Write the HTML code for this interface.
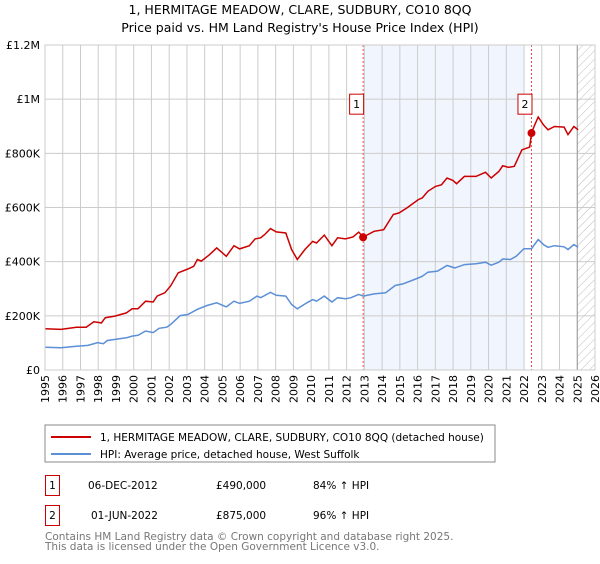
<!DOCTYPE html>
<html><head><meta charset="utf-8"><style>
body{margin:0;background:#fff;font-family:"DejaVu Sans","Liberation Sans",sans-serif;}
svg text{font-family:"DejaVu Sans","Liberation Sans",sans-serif;}
</style></head><body>
<svg id="chart" width="600" height="560" viewBox="0 0 600 560">
<defs><pattern id="hatch" width="6" height="6" patternUnits="userSpaceOnUse" patternTransform="rotate(45)"><line x1="0" y1="0" x2="0" y2="6" stroke="#bbb" stroke-width="1"/></pattern></defs>
<text x="300" y="14" text-anchor="middle" font-size="12.5" fill="#000">1, HERMITAGE MEADOW, CLARE, SUDBURY, CO10 8QQ</text>
<text x="300" y="32" text-anchor="middle" font-size="12.5" fill="#000">Price paid vs. HM Land Registry's House Price Index (HPI)</text>
<g id="plot"></g>
<rect x="45" y="425" width="450" height="37" fill="#fff" stroke="#888"/>
<line x1="51" y1="437" x2="91" y2="437" stroke="#cc0000" stroke-width="2"/>
<text x="100" y="441" font-size="10.5">1, HERMITAGE MEADOW, CLARE, SUDBURY, CO10 8QQ (detached house)</text>
<line x1="51" y1="454" x2="91" y2="454" stroke="#5b8fd6" stroke-width="2"/>
<text x="100" y="458" font-size="10.5">HPI: Average price, detached house, West Suffolk</text>
<rect x="45.5" y="475.5" width="14" height="20" fill="#fff" stroke="#cc0000"/>
<text x="52.5" y="489" font-size="10.5" text-anchor="middle">1</text>
<text x="88" y="489" font-size="10.5">06-DEC-2012</text>
<text x="216" y="489" font-size="10.5">£490,000</text>
<text x="313" y="489" font-size="10.5">84% ↑ HPI</text>
<rect x="45.5" y="505.5" width="14" height="20" fill="#fff" stroke="#cc0000"/>
<text x="52.5" y="519" font-size="10.5" text-anchor="middle">2</text>
<text x="91" y="519" font-size="10.5">01-JUN-2022</text>
<text x="216" y="519" font-size="10.5">£875,000</text>
<text x="313" y="519" font-size="10.5">96% ↑ HPI</text>
<text x="45" y="540" font-size="10.5" fill="#777">Contains HM Land Registry data © Crown copyright and database right 2025.</text>
<text x="45" y="550" font-size="10.5" fill="#777">This data is licensed under the Open Government Licence v3.0.</text>
</svg>
<script>
const redYears=[1995.0,1995.91,1996.77,1997.32,1997.75,1998.18,1998.40,1998.94,1999.59,1999.91,2000.24,2000.67,2001.10,2001.32,2001.75,2002.08,2002.51,2003.05,2003.38,2003.59,2003.81,2004.24,2004.68,2005.22,2005.65,2005.97,2006.52,2006.84,2007.16,2007.38,2007.71,2008.03,2008.57,2008.90,2009.22,2009.65,2010.09,2010.30,2010.74,2011.17,2011.49,2011.93,2012.36,2012.68,2012.94,2013.55,2014.09,2014.63,2014.96,2015.39,2016.04,2016.26,2016.58,2017.01,2017.34,2017.66,2017.99,2018.20,2018.64,2019.29,2019.83,2020.15,2020.58,2020.80,2021.13,2021.45,2021.88,2022.32,2022.42,2022.60,2022.80,2023.10,2023.35,2023.72,2024.26,2024.48,2024.81,2025.05];
const redValues=[152,150,158,158,178,174,193,199,211,226,226,254,251,273,285,310,359,373,383,408,402,424,451,420,459,447,459,484,488,500,522,510,506,445,408,445,475,469,498,459,488,484,491,509,491,512,518,574,580,598,629,635,660,678,684,709,700,688,715,715,730,709,733,754,748,752,813,823,875,905,934,905,887,899,897,869,899,887];
const hpiYears=[1995.0,1995.91,1996.77,1997.42,1997.97,1998.29,1998.51,1999.59,1999.91,2000.24,2000.67,2001.10,2001.43,2001.86,2002.08,2002.62,2003.05,2003.59,2004.13,2004.68,2005.22,2005.65,2005.97,2006.52,2006.95,2007.16,2007.71,2008.03,2008.57,2008.90,2009.22,2009.76,2010.09,2010.30,2010.74,2011.17,2011.49,2011.93,2012.25,2012.68,2012.94,2013.55,2014.20,2014.74,2015.17,2015.82,2016.26,2016.58,2017.12,2017.66,2018.10,2018.64,2019.29,2019.83,2020.15,2020.58,2020.80,2021.23,2021.56,2021.99,2022.42,2022.80,2023.10,2023.35,2023.72,2024.26,2024.48,2024.81,2025.05];
const hpiValues=[84,82,88,91,101,97,109,119,125,128,144,138,154,158,168,201,205,224,238,248,233,254,246,254,273,267,287,276,273,242,226,248,260,254,273,251,267,263,267,279,273,281,285,312,318,334,346,361,365,386,377,389,392,398,387,398,410,408,420,448,448,482,463,453,459,455,445,463,453];
const saleYears=[2012.93,2022.42];
const saleValues=[490,875];
const saleLabels=["1","2"];
const yTicks=[0,200,400,600,800,1000,1200];
const yTickLabels=["£0","£200K","£400K","£600K","£800K","£1M","£1.2M"];
const xStart=1995,xEnd=2026,dataEnd=2025.0,shadeEnd=2022.0;

const L=45,R=595,T=45,B=370;
const xs=y=>L+(y-xStart)*(R-L)/(xEnd-xStart);
const ys=v=>B-v*(B-T)/1200;
const NS="http://www.w3.org/2000/svg";
const g=document.getElementById('plot');
function mk(tag,attrs,parent){const e=document.createElementNS(NS,tag);for(const k in attrs)e.setAttribute(k,attrs[k]);(parent||g).appendChild(e);return e;}

const shade=mk('rect',{x:xs(saleYears[0]),y:T,width:xs(shadeEnd)-xs(saleYears[0]),height:B-T,fill:'#eef3fd',opacity:0.8});


const hatch=mk('rect',{x:xs(dataEnd),y:T,width:R-xs(dataEnd),height:B-T,fill:'url(#hatch)'});



for(let yr=xStart;yr<=xEnd;yr++){
  const l=mk('line',{x1:xs(yr),x2:xs(yr),y1:T,y2:B,stroke:'#ccc','stroke-width':1});
  
  
  const t=mk('text',{x:0,y:0,'font-size':11,'text-anchor':'end',transform:`translate(${xs(yr)+4},${B+5}) rotate(-90)`});
  t.textContent=yr;
  
  
}
yTicks.forEach((v,i)=>{
  const l=mk('line',{x1:L,x2:R,y1:ys(v),y2:ys(v),stroke:'#ccc','stroke-width':1});
  
  
  const t=mk('text',{x:L-5,y:ys(v)+4,'font-size':11,'text-anchor':'end'});
  t.textContent=yTickLabels[i];
  
  
});
const edge=mk('line',{x1:xs(dataEnd),x2:xs(dataEnd),y1:T,y2:B,stroke:'#999','stroke-width':1});


saleYears.forEach((yr,i)=>{
  const l=mk('line',{x1:xs(yr),x2:xs(yr),y1:T,y2:B,stroke:'#e05050','stroke-width':1,'stroke-dasharray':'2,2'});
  
  
});
function path(xsArr,vals,color,name){
  const d=xsArr.map((y,i)=>(i?'L':'M')+xs(y).toFixed(1)+','+ys(vals[i]).toFixed(1)).join('');
  const p=mk('path',{d,fill:'none',stroke:color,'stroke-width':1.5});
  
  
}
path(hpiYears,hpiValues,'#5b8fd6','hpi-line');
path(redYears,redValues,'#cc0000','property-price-line');
saleYears.forEach((yr,i)=>{
  const c=mk('circle',{cx:xs(yr),cy:ys(saleValues[i]),r:4,fill:'#cc0000'});
  
  
  const bx=mk('rect',{x:xs(yr)-13.5,y:ys(1000)-5,width:14,height:20,fill:'#fff',stroke:'#cc0000'});
  
  
  const t=mk('text',{x:xs(yr)-6.5,y:ys(1000)+9,'font-size':11,'text-anchor':'middle'});
  t.textContent=saleLabels[i];
  
  
});
const frame=mk('rect',{x:L,y:T,width:R-L,height:B-T,fill:'none',stroke:'#ccc'});


</script>
</body></html>
